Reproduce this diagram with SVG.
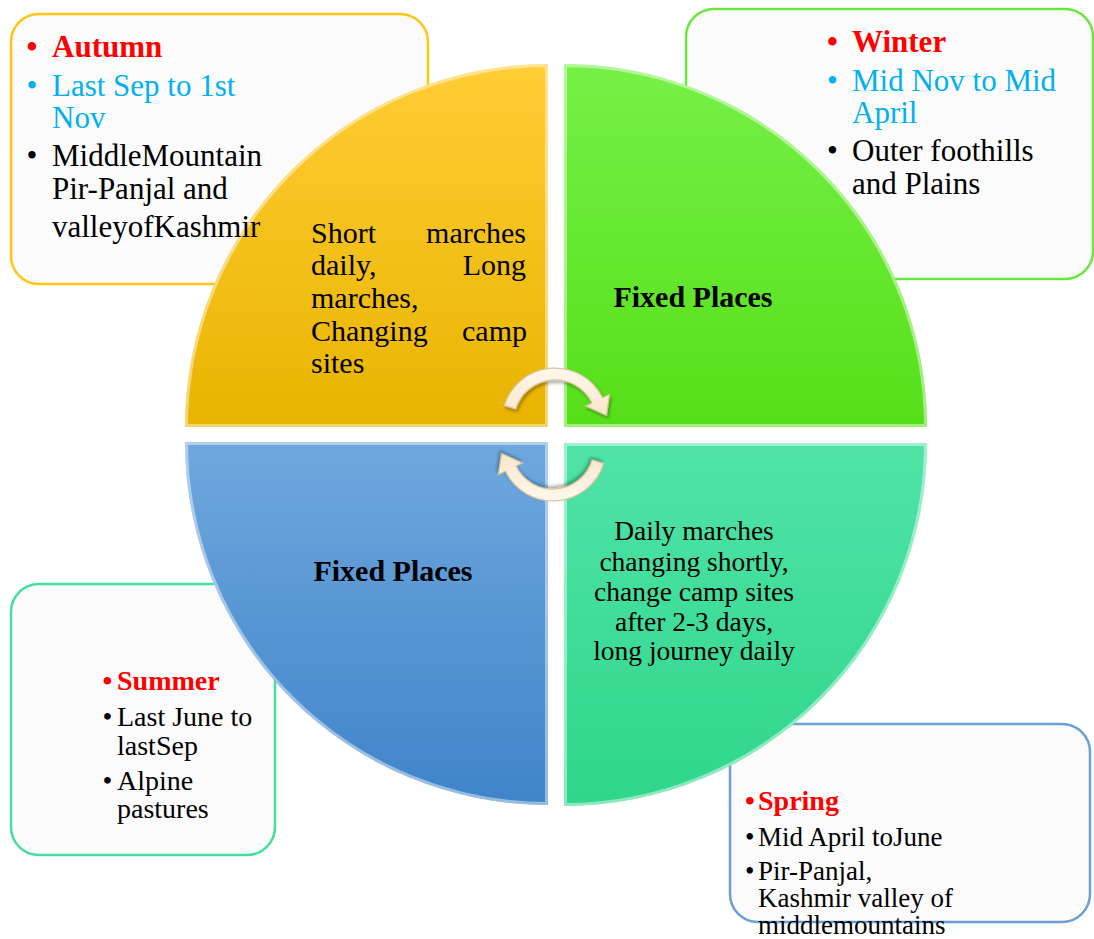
<svg xmlns="http://www.w3.org/2000/svg" xmlns:xlink="http://www.w3.org/1999/xlink" width="1094" height="939" viewBox="0 0 1094 939" font-family="'Liberation Serif', 'DejaVu Serif', serif">
<style>
  text { font-family: 'Liberation Serif', 'DejaVu Serif', serif; }
  .box { fill: #FBFBFB; stroke-width: 2.5; }
  .big { font-size: 31px; }
  .mid { font-size: 28px; }
  .sm { font-size: 27px; }
  .red { fill: #FF0000; font-weight: bold; }
  .cyan { fill: #00B0F0; }
  .blk { fill: #000000; }
  .q { font-size: 30px; fill: #000; }
  .qb { font-size: 30px; font-weight: bold; fill: #000; text-anchor: middle; }
  .qc { font-size: 27.5px; fill: #000; text-anchor: middle; }
  .bevel { fill: none; stroke: #ffffff; stroke-opacity: 0.45; stroke-width: 6; }
  .arrow { fill: url(#ga); stroke: #DCC39C; stroke-width: 1.2; filter: url(#sh); }
</style>
<defs>
  <linearGradient id="g1" x1="0" y1="0" x2="0" y2="1"><stop offset="0" stop-color="#FFCD35"/><stop offset="1" stop-color="#E8B400"/></linearGradient>
  <linearGradient id="g2" x1="0" y1="0" x2="0" y2="1"><stop offset="0" stop-color="#76F047"/><stop offset="1" stop-color="#55DF18"/></linearGradient>
  <linearGradient id="g3" x1="0" y1="0" x2="0" y2="1"><stop offset="0" stop-color="#6FA8DE"/><stop offset="1" stop-color="#3F84C9"/></linearGradient>
  <linearGradient id="g4" x1="0" y1="0" x2="0" y2="1"><stop offset="0" stop-color="#50E3A7"/><stop offset="1" stop-color="#2FD68C"/></linearGradient>
  <linearGradient id="ga" x1="0" y1="0" x2="0" y2="1"><stop offset="0" stop-color="#FFF8EE"/><stop offset="1" stop-color="#F8E6CA"/></linearGradient>
  <filter id="sh" x="-20%" y="-20%" width="140%" height="140%"><feDropShadow dx="1.5" dy="2.5" stdDeviation="1.5" flood-color="#000" flood-opacity="0.3"/></filter>
  <path id="q1" d="M548,427 L548,64 A363,363 0 0 0 185,427 Z"/>
  <path id="q2" d="M564,427 L927,427 A363,363 0 0 0 564,64 Z"/>
  <path id="q3" d="M548,442 L185,442 A363,363 0 0 0 548,805 Z"/>
  <path id="q4" d="M564,443 L564,806 A363,363 0 0 0 927,443 Z"/>
  <clipPath id="c1"><use xlink:href="#q1"/></clipPath>
  <clipPath id="c2"><use xlink:href="#q2"/></clipPath>
  <clipPath id="c3"><use xlink:href="#q3"/></clipPath>
  <clipPath id="c4"><use xlink:href="#q4"/></clipPath>
  <path id="arr" d="M504.3,405.5 A53,53 0 0 1 602.6,397.8 L609.5,394.5 L606.5,415.5 L585.6,406.1 L591.9,403 A41,41 0 0 0 515.8,409 Z"/>
</defs>
<rect width="1094" height="939" fill="#ffffff"/>

<!-- callout boxes (behind the circle) -->
<g id="box-autumn"><rect class="box" x="11" y="14" width="417" height="270" rx="28" stroke="#FFC514"/></g>
<g id="box-winter"><rect class="box" x="686" y="9" width="407" height="270" rx="28" stroke="#6BE63E"/></g>
<g id="box-summer"><rect class="box" x="11" y="584" width="264" height="271" rx="28" stroke="#45DE9E"/></g>
<g id="box-spring"><rect class="box" x="730" y="724" width="360" height="198" rx="28" stroke="#6A9FD8"/></g>

<!-- quadrants -->
<g id="quad-tl">
  <use xlink:href="#q1" fill="url(#g1)"/>
  <use xlink:href="#q1" class="bevel" clip-path="url(#c1)"/>
  <text class="q" x="311" y="243">Short</text><text class="q" x="526" y="243" text-anchor="end">marches</text>
  <text class="q" x="311" y="275">daily,</text><text class="q" x="526" y="275" text-anchor="end">Long</text>
  <text class="q" x="311" y="308">marches,</text>
  <text class="q" x="311" y="341">Changing</text><text class="q" x="527" y="341" text-anchor="end">camp</text>
  <text class="q" x="311" y="373">sites</text>
</g>
<g id="quad-tr">
  <use xlink:href="#q2" fill="url(#g2)"/>
  <use xlink:href="#q2" class="bevel" clip-path="url(#c2)"/>
  <text class="qb" x="693" y="307">Fixed Places</text>
</g>
<g id="quad-bl">
  <use xlink:href="#q3" fill="url(#g3)"/>
  <use xlink:href="#q3" class="bevel" clip-path="url(#c3)"/>
  <text class="qb" x="393" y="581">Fixed Places</text>
</g>
<g id="quad-br">
  <use xlink:href="#q4" fill="url(#g4)"/>
  <use xlink:href="#q4" class="bevel" clip-path="url(#c4)"/>
  <text class="qc" x="694" y="540">Daily marches</text>
  <text class="qc" x="694" y="571">changing shortly,</text>
  <text class="qc" x="694" y="601">change camp sites</text>
  <text class="qc" x="694" y="631">after 2-3 days,</text>
  <text class="qc" x="694" y="660">long journey daily</text>
</g>

<!-- cycle arrows -->
<g id="connectors">
  <use xlink:href="#arr" class="arrow"/>
  <use xlink:href="#arr" class="arrow" transform="rotate(180 554 434.5)"/>
</g>

<!-- callout texts -->
<g id="text-autumn" class="big">
  <text class="red" x="26.5" y="57">•</text><text class="red" x="52" y="57">Autumn</text>
  <text class="cyan" x="26.5" y="96">•</text><text class="cyan" x="52" y="96">Last Sep to 1st</text>
  <text class="cyan" x="52" y="128">Nov</text>
  <text class="blk" x="26.5" y="166">•</text><text class="blk" x="52" y="166">MiddleMountain</text>
  <text class="blk" x="52" y="199">Pir-Panjal and</text>
  <text class="blk" x="52" y="237">valleyofKashmir</text>
</g>
<g id="text-winter" class="big">
  <text class="red" x="827" y="52">•</text><text class="red" x="852" y="52">Winter</text>
  <text class="cyan" x="827" y="91">•</text><text class="cyan" x="852" y="91">Mid Nov to Mid</text>
  <text class="cyan" x="852" y="123">April</text>
  <text class="blk" x="827" y="161">•</text><text class="blk" x="852" y="161">Outer foothills</text>
  <text class="blk" x="852" y="194">and Plains</text>
</g>
<g id="text-summer" class="mid">
  <text class="red" x="102.5" y="690">•</text><text class="red" x="117" y="690">Summer</text>
  <text class="blk" x="102.5" y="726">•</text><text class="blk" x="117" y="726">Last June to</text>
  <text class="blk" x="117" y="755">lastSep</text>
  <text class="blk" x="102.5" y="790">•</text><text class="blk" x="117" y="790">Alpine</text>
  <text class="blk" x="117" y="818">pastures</text>
</g>
<g id="text-spring" class="sm">
  <text class="red" x="745" y="810" font-size="28">•</text><text class="red" x="758" y="810" font-size="28">Spring</text>
  <text class="blk" x="745" y="846">•</text><text class="blk" x="758" y="846">Mid April toJune</text>
  <text class="blk" x="745" y="880">•</text><text class="blk" x="758" y="880">Pir-Panjal,</text>
  <text class="blk" x="758" y="907">Kashmir valley of</text>
  <text class="blk" x="758" y="934">middlemountains</text>
</g>
</svg>
